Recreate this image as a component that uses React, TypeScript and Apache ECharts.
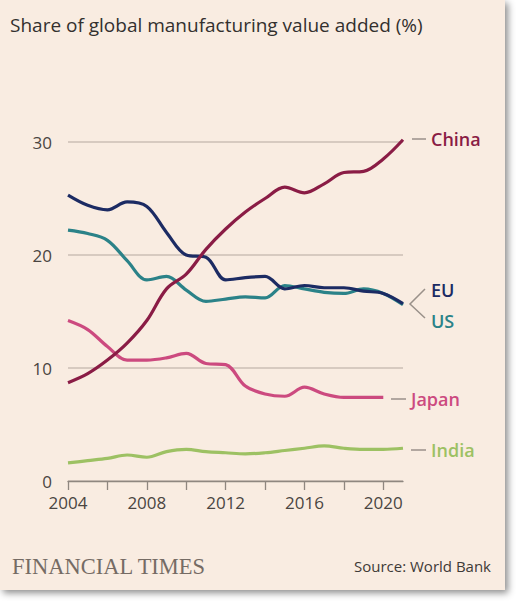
import React, { useEffect, useRef } from "react";
import * as echarts from "echarts";

const years = ["2004","2005","2006","2007","2008","2009","2010","2011","2012","2013","2014","2015","2016","2017","2018","2019","2020","2021"];
const china = [8.7, 9.5, 10.7, 12.2, 14.2, 17.0, 18.3, 20.5, 22.3, 23.8, 25.0, 26.0, 25.5, 26.3, 27.3, 27.4, 28.5, 30.2];
const eu = [25.3, 24.4, 24.0, 24.7, 24.3, 22.0, 20.0, 19.8, 17.8, 18.0, 18.1, 17.0, 17.3, 17.1, 17.1, 16.8, 16.6, 15.7];
const us = [22.2, 21.9, 21.3, 19.5, 17.8, 18.1, 16.9, 15.9, 16.1, 16.3, 16.2, 17.3, 17.0, 16.7, 16.6, 17.0, 16.6, 15.6];
const japan = [14.2, 13.4, 11.9, 10.7, 10.7, 10.9, 11.3, 10.4, 10.3, 8.4, 7.7, 7.5, 8.3, 7.7, 7.4, 7.4, 7.4, null];
const india = [1.6, 1.8, 2.0, 2.3, 2.1, 2.6, 2.8, 2.6, 2.5, 2.4, 2.5, 2.7, 2.9, 3.1, 2.9, 2.8, 2.8, 2.9];
const yTicks = [0, 10, 20, 30];

const FONT = "'Open Sans', Lato, sans-serif";
const C = { china: "#8a1c45", eu: "#1c2b63", us: "#2b8288", japan: "#cc4a7f", india: "#9dc163" };

export default function App() {
  const ref = useRef<HTMLDivElement>(null);
  useEffect(() => {
    if (!ref.current) return;
    const chart = echarts.init(ref.current, undefined, { renderer: "svg" });
    const mk = (name: string, data: (number | null)[], color: string, z: number) => ({
      name,
      type: "line",
      data,
      smooth: 0.35,
      showSymbol: false,
      clip: false,
      z,
      lineStyle: { color, width: 3.2 },
      itemStyle: { color },
    });
    chart.setOption({
      animation: false,
      backgroundColor: "transparent",
      grid: { left: 68, right: 117, top: 142, bottom: 123, containLabel: false },
      xAxis: {
        type: "category",
        data: years,
        boundaryGap: false,
        axisLine: { lineStyle: { color: "#8f8780", width: 1.3 } },
        axisTick: { interval: 1, length: 9, lineStyle: { color: "#8f8780", width: 1.3 } },
        axisLabel: { interval: 3, color: "#4a4541", fontSize: 17, fontFamily: FONT, margin: 13 },
        splitLine: { show: false },
      },
      yAxis: {
        type: "value",
        min: yTicks[0],
        max: yTicks[yTicks.length - 1],
        interval: 10,
        axisLine: { show: false },
        axisTick: { show: false },
        axisLabel: { color: "#4a4541", fontSize: 17, fontFamily: FONT, margin: 16 },
        splitLine: { lineStyle: { color: "#cbbfb5", width: 1.5 } },
      },
      series: [
        mk("India", india, C.india, 2),
        mk("Japan", japan, C.japan, 3),
        mk("US", us, C.us, 4),
        mk("EU", eu, C.eu, 5),
        mk("China", china, C.china, 6),
      ],
      graphic: [
        { type: "text", x: 10, y: 25, style: { text: "Share of global manufacturing value added (%)", fill: "#33302e", font: `19px ${FONT}`, verticalAlign: "middle" } },
        { type: "line", shape: { x1: 412, y1: 139, x2: 426, y2: 139 }, style: { stroke: "#9a918a", lineWidth: 1.5 } },
        { type: "text", x: 431, y: 139, style: { text: "China", fill: C.china, font: `600 18px ${FONT}`, verticalAlign: "middle" } },
        { type: "polyline", shape: { points: [[425, 289], [410, 304], [425, 318]] }, style: { stroke: "#9a918a", lineWidth: 1.5, fill: null } },
        { type: "text", x: 431, y: 290, style: { text: "EU", fill: C.eu, font: `600 18px ${FONT}`, verticalAlign: "middle" } },
        { type: "text", x: 431, y: 321, style: { text: "US", fill: C.us, font: `600 18px ${FONT}`, verticalAlign: "middle" } },
        { type: "line", shape: { x1: 391, y1: 399, x2: 406, y2: 399 }, style: { stroke: "#9a918a", lineWidth: 1.5 } },
        { type: "text", x: 411, y: 399, style: { text: "Japan", fill: C.japan, font: `600 18px ${FONT}`, verticalAlign: "middle" } },
        { type: "line", shape: { x1: 411, y1: 450, x2: 426, y2: 450 }, style: { stroke: "#9a918a", lineWidth: 1.5 } },
        { type: "text", x: 431, y: 450, style: { text: "India", fill: C.india, font: `600 18px ${FONT}`, verticalAlign: "middle" } },
        { type: "text", x: 12, y: 566, style: { text: "FINANCIAL TIMES", fill: "#756b64", font: `22.5px 'Liberation Serif', serif`, verticalAlign: "middle" } },
        { type: "text", x: 491, y: 566, style: { text: "Source: World Bank", fill: "#3e3a37", font: `15px ${FONT}`, align: "right", verticalAlign: "middle" } },
      ],
    });
    return () => chart.dispose();
  }, []);
  return (
    <div style={{ position: "fixed", left: 0, top: 0, width: 520, height: 604, background: "#ffffff", overflow: "hidden" }}>
      <div style={{ position: "absolute", left: 0, top: 0, width: 505, height: 590, background: "#f9ece1", boxShadow: "3px 3px 7px rgba(0,0,0,0.45)" }} />
      <div ref={ref} style={{ position: "absolute", left: 0, top: 0, width: 520, height: 604 }} />
    </div>
  );
}
